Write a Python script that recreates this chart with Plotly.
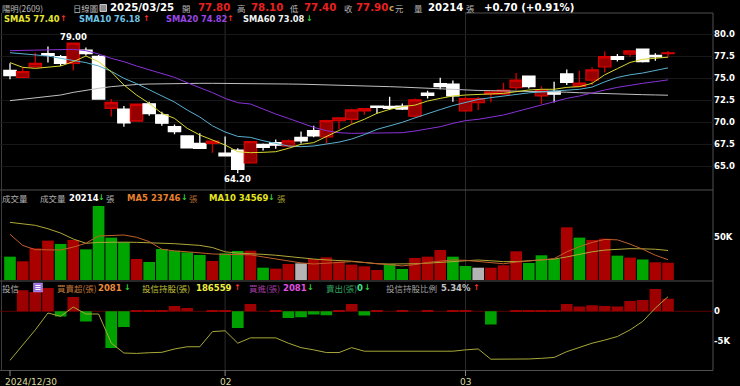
import plotly.graph_objects as go

W, H = 740, 386

dates = ["2024-12-30", "2024-12-31",
         "2025-01-02", "2025-01-03", "2025-01-06", "2025-01-07", "2025-01-08", "2025-01-09", "2025-01-10",
         "2025-01-13", "2025-01-14", "2025-01-15", "2025-01-16", "2025-01-17",
         "2025-01-20", "2025-01-21", "2025-01-22",
         "2025-02-03", "2025-02-04", "2025-02-05", "2025-02-06", "2025-02-07",
         "2025-02-10", "2025-02-11", "2025-02-12", "2025-02-13", "2025-02-14",
         "2025-02-17", "2025-02-18", "2025-02-19", "2025-02-20", "2025-02-21",
         "2025-02-24", "2025-02-25", "2025-02-26", "2025-02-27",
         "2025-03-03", "2025-03-04", "2025-03-05", "2025-03-06", "2025-03-07",
         "2025-03-10", "2025-03-11", "2025-03-12", "2025-03-13", "2025-03-14",
         "2025-03-17", "2025-03-18", "2025-03-19", "2025-03-20", "2025-03-21",
         "2025-03-24", "2025-03-25"]

open_ = [75.9, 75.1, 76.3, 77.8, 77.45, 76.7, 78.2, 77.5, 71.6, 71.5, 70.15, 72.1, 70.85, 69.5, 68.45, 67.6, 67.6,
         66.5, 66.85, 65.4, 67.5, 67.7, 67.3, 68.3, 69.05, 68.35, 70.2, 70.35, 71.3, 71.85, 71.8, 71.85, 70.7, 73.3,
         74.4, 74.35, 71.3, 72.25, 73.2, 73.2, 73.95, 75.25, 73.0, 73.5, 75.5, 74.1, 74.8, 76.3, 77.45, 77.75, 78.3,
         77.6, 77.8]
high = [76.7, 76.25, 77.9, 78.6, 77.65, 79.0, 78.5, 77.65, 72.65, 71.85, 72.1, 72.35, 71.2, 69.75, 68.45, 68.75, 67.9,
        68.4, 67.05, 67.8, 67.6, 68.05, 68.05, 68.95, 69.6, 70.3, 70.55, 71.55, 71.55, 71.9, 72.9, 72.15, 72.7, 73.6,
        75.05, 74.75, 72.9, 72.9, 73.5, 74.5, 75.6, 75.25, 74.1, 74.6, 76.0, 75.85, 76.25, 78.05, 77.75, 78.15, 78.4,
        77.85, 78.1]
low = [74.9, 75.1, 76.3, 76.8, 76.4, 75.9, 77.6, 72.65, 70.65, 69.5, 70.1, 70.75, 69.6, 68.65, 67.05, 67.05, 66.55,
       66.2, 64.2, 65.4, 66.8, 67.0, 67.15, 67.6, 68.3, 67.6, 69.2, 69.8, 70.85, 71.0, 71.4, 71.4, 70.55, 72.7,
       73.75, 72.35, 71.2, 71.4, 72.25, 73.2, 73.65, 73.85, 72.1, 72.25, 74.25, 74.1, 74.25, 75.65, 76.9, 77.45, 76.8,
       77.0, 77.4]
close = [75.3, 75.75, 76.7, 77.6, 76.7, 79.0, 77.8, 72.65, 72.25, 69.95, 72.05, 71.0, 69.9, 68.95, 67.1, 67.05, 67.85,
         66.2, 64.65, 67.8, 67.15, 67.4, 67.9, 67.9, 68.45, 70.2, 70.5, 71.4, 71.55, 71.7, 71.6, 71.5, 72.55, 73.05,
         74.05, 73.0, 72.7, 72.7, 73.45, 73.65, 74.8, 74.05, 73.65, 73.2, 74.55, 74.45, 75.95, 77.45, 77.15, 78.1, 76.9,
         77.45, 77.9]

sma5 = [76.78, 76.25, 76.13, 76.25, 76.4, 76.89, 77.53, 76.89, 75.75, 74.24, 73.1, 72.15, 71.02, 70.45, 69.32, 68.56,
        67.99, 67.42, 66.66, 66.55, 66.59, 66.66, 67.04, 67.5, 67.69, 68.37, 69.13, 69.77, 70.34, 71.02, 71.47, 71.78,
        71.95, 72.42, 72.72, 72.99, 73.1, 73.18, 73.22, 73.29, 73.48, 73.67, 73.75, 73.75, 73.97, 74.05, 74.43, 75.4,
        76.1, 76.8, 77.16, 77.3, 77.4]
sma10 = [77.91, 77.76, 77.65, 77.53, 77.27, 77.0, 76.78, 76.4, 75.8, 75.0, 74.4, 73.7, 73.0, 72.3, 71.4, 70.6, 69.6,
         68.9, 68.4, 68.29, 67.91, 67.61, 67.31, 67.23, 67.31, 67.53, 67.75, 68.1, 68.6, 69.2, 69.6, 70.0, 70.5, 71.0,
         71.45, 71.9, 72.23, 72.6, 72.8, 73.0, 73.2, 73.35, 73.45, 73.55, 73.65, 73.75, 74.0, 74.6, 75.1, 75.4, 75.6,
         75.9, 76.18]
sma20 = [78.14, 78.18, 78.22, 78.29, 78.33, 78.29, 78.14, 77.76, 77.27, 76.89, 76.4, 75.94, 75.57, 75.11, 74.5, 73.97,
         73.37, 72.72, 72.23, 72.08, 71.47, 70.94, 70.45, 69.96, 69.43, 69.05, 68.82, 68.75, 68.75, 68.75, 68.75, 68.82,
         69.01, 69.24, 69.5, 69.88, 70.19, 70.34, 70.57, 70.83, 71.21, 71.59, 71.97, 72.34, 72.72, 72.99, 73.37, 73.67,
         73.97, 74.24, 74.43, 74.62, 74.82]
sma60 = [72.46, 72.6, 72.75, 72.91, 73.1, 73.4, 73.67, 73.86, 74.05, 74.2, 74.3, 74.35, 74.39, 74.41, 74.43, 74.43,
         74.43, 74.43, 74.43, 74.43, 74.41, 74.39, 74.35, 74.33, 74.3, 74.27, 74.24, 74.2, 74.15, 74.1, 74.05, 74.0,
         73.93, 73.86, 73.78, 73.7, 73.65, 73.62, 73.6, 73.58, 73.55, 73.52, 73.5, 73.47, 73.42, 73.36, 73.3, 73.26,
         73.22, 73.18, 73.14, 73.11, 73.08]

volume = [27300, 21900, 37100, 46100, 42200, 46800, 35900, 86700, 49600, 44100, 24600, 21100, 36300, 34300, 32400,
          29300, 22200, 31200, 34000, 34300, 14400, 13300, 18700, 19500, 24600, 26500, 21500, 18000, 16000, 11700,
          18700, 12900, 25800, 27300, 35100, 27300, 16400, 14400, 14400, 17200, 33600, 19900, 28900, 24600, 61700,
          49600, 46800, 48400, 28500, 26200, 24000, 20700, 20214]
vol_dir = ["d", "u", "u", "u", "d", "u", "d", "d", "d", "d", "u", "d", "d", "d", "d", "d", "u", "d", "d", "u", "d",
           "u", "u", "f", "u", "u", "u", "u", "u", "u", "d", "d", "u", "u", "u", "d", "d", "f", "u", "u", "u", "d",
           "d", "d", "u", "d", "u", "u", "d", "u", "d", "u", "u"]
vol_ma5 = [53500, 40500, 35500, 35100, 35100, 38500, 43000, 51500, 52500, 52700, 50000, 45000, 36000, 34000, 33000,
           31500, 30500, 30000, 30000, 29500, 27000, 24500, 22500, 20000, 18700, 19500, 21000, 21500, 20500, 19000,
           18000, 16500, 18000, 20500, 22000, 23500, 23000, 21500, 20000, 19000, 21000, 22000, 23500, 25000, 33000,
           39000, 44000, 47500, 47000, 42000, 36000, 29000, 23746]
vol_ma10 = [67500, 65500, 64000, 60000, 55000, 48000, 43000, 44000, 44500, 44300, 44100, 43800, 43300, 42500, 41500,
            40500, 38000, 33000, 31500, 31000, 30000, 29000, 27500, 25500, 24500, 23500, 23000, 22000, 20500, 19000,
            18700, 18700, 19000, 19700, 20300, 21500, 22500, 23400, 22500, 21500, 21500, 22500, 23500, 24500, 27000,
            30000, 33000, 35000, 36000, 36700, 36500, 36000, 34569]

inv_net = [0, 3500, 3200, 3900, -850, 2400, -1700, 0, -6100, -2600, 100, 100, 100, 900, 550, 0, 100, 150, -2800,
           1200, 0, 50, -1100, -1000, -550, -650, 150, 1200, -700, 50, 0, 50, 0, 100, 0, 50, 150, 0, -2200, 0, 50,
           50, 200, 200, 1200, 800, 1000, 900, 800, 1700, 1900, 3700, 2081]
inv_hold = [172250, 175760, 179100, 182900, 182150, 184240, 182670, 182670, 176140, 173890, 173800, 173960, 174050,
            174800, 175300, 175300, 178700, 178900, 176100, 177300, 177300, 177300, 176100, 175100, 174600, 174000,
            174000, 175100, 174300, 174300, 174300, 174300, 174300, 174300, 174300, 174300, 174600, 174800, 172500,
            172500, 172500, 172550, 172700, 172900, 174200, 175100, 176100, 176800, 177600, 179100, 181000, 184000,
            186559]

price_ticks = [65.0, 67.5, 70.0, 72.5, 75.0, 77.5, 80.0]
date_ticks = {"2024-12-30": "2024/12/30", "2025-02-03": "02", "2025-03-03": "03"}

# ---------------------------------------------------------------- layout helpers
def px_x(p):
    return p / W

def px_y(p):
    return 1 - p / H

NUM = "DejaVu Sans"
CJK = "Noto Sans CJK TC"
PLOT_R = 713
spacing = 12.654
xr = [-10 / spacing, (PLOT_R - 10) / spacing]

fig = go.Figure()

# price panel
fig.add_trace(go.Candlestick(
    x=dates, open=open_, high=high, low=low, close=close,
    increasing=dict(line=dict(color="#d40000", width=1.3), fillcolor="#960000"),
    decreasing=dict(line=dict(color="#ffffff", width=1.3), fillcolor="#ffffff"),
    whiskerwidth=0, xaxis="x", yaxis="y", showlegend=False, hoverinfo="skip"))
for vals, col in [(sma60, "#c0c0c0"), (sma20, "#8a32d8"), (sma10, "#5ab0d0"), (sma5, "#d8d830")]:
    fig.add_trace(go.Scatter(x=dates, y=vals, mode="lines", line=dict(color=col, width=1),
                             xaxis="x", yaxis="y", showlegend=False, hoverinfo="skip"))

# volume panel
vcol = {"u": "#aa0000", "d": "#00a600", "f": "#b4b4b4"}
fig.add_trace(go.Bar(x=dates, y=volume, marker=dict(color=[vcol[d] for d in vol_dir], line=dict(width=0)),
                     width=0.92, xaxis="x", yaxis="y2", showlegend=False, hoverinfo="skip"))
fig.add_trace(go.Scatter(x=dates, y=vol_ma10, mode="lines", line=dict(color="#b0a838", width=1),
                         xaxis="x", yaxis="y2", showlegend=False, hoverinfo="skip"))
fig.add_trace(go.Scatter(x=dates, y=vol_ma5, mode="lines", line=dict(color="#c0602a", width=1),
                         xaxis="x", yaxis="y2", showlegend=False, hoverinfo="skip"))

# institutional panel
fig.add_trace(go.Bar(x=dates, y=inv_net,
                     marker=dict(color=["#9c0000" if v >= 0 else "#00a000" for v in inv_net], line=dict(width=0)),
                     width=0.92, xaxis="x", yaxis="y3", showlegend=False, hoverinfo="skip"))
fig.add_trace(go.Scatter(x=dates, y=inv_hold, mode="lines", line=dict(color="#a8a838", width=1),
                         xaxis="x", yaxis="y4", showlegend=False, hoverinfo="skip"))

tickfont = dict(family=NUM, size=8.5, color="#ffffff", weight="bold")
fig.update_layout(
    width=W, height=H, margin=dict(l=0, r=0, t=0, b=0),
    paper_bgcolor="#000000", plot_bgcolor="#000000",
    boxgap=0.03, boxgroupgap=0.0, barmode="overlay", showlegend=False,
    xaxis=dict(type="category", range=xr, domain=[0, PLOT_R / W], anchor="y3",
               showgrid=False, zeroline=False, showline=False, showticklabels=False, ticks="",
               rangeslider=dict(visible=False), fixedrange=True),
    yaxis=dict(domain=[px_y(190), px_y(13)], range=[62.31, 82.42], side="right", anchor="x",
               tickvals=price_ticks, ticktext=[f"{v:.1f}" for v in price_ticks], tickfont=tickfont,
               showgrid=True, gridcolor="#181818", gridwidth=1, zeroline=False, showline=False, ticks=""),
    yaxis2=dict(domain=[px_y(281), px_y(190)], range=[-1200, 105400], side="right", anchor="x",
                tickvals=[50000], ticktext=["50K"], tickfont=tickfont,
                showgrid=False, zeroline=False, showline=False, ticks=""),
    yaxis3=dict(domain=[px_y(370.5), px_y(281)], range=[-9870, 5050], side="right", anchor="x",
                tickvals=[0, -5000], ticktext=["0", "-5K"], tickfont=tickfont,
                showgrid=False, zeroline=False, showline=False, ticks=""),
    yaxis4=dict(domain=[px_y(370.5), px_y(281)], range=[169960, 190090], overlaying="y3", side="right",
                anchor="x", visible=False),
)

# ---------------------------------------------------------------- frame lines
def hline(y, x0, x1, color, w=1):
    fig.add_shape(type="line", xref="paper", yref="paper", x0=px_x(x0), x1=px_x(x1), y0=px_y(y), y1=px_y(y),
                  line=dict(color=color, width=w), layer="below")

def vline(x, y0, y1, color, w=1, layer="below"):
    fig.add_shape(type="line", xref="paper", yref="paper", x0=px_x(x), x1=px_x(x), y0=px_y(y0), y1=px_y(y1),
                  line=dict(color=color, width=w), layer=layer)

for d in date_ticks:
    i = dates.index(d)
    xp = 10 + i * spacing
    if i > 0:
        vline(xp, 13, 370.5, "#2c2c2c")
    vline(xp, 370.5, 376, "#8c8c8c", layer="above")
hline(13, 465, PLOT_R, "#505050")
hline(190, 0, PLOT_R, "#505050")
hline(281, 0, PLOT_R, "#505050")
hline(370.5, 0, PLOT_R, "#505050")
vline(1.5, 13, 370.5, "#3c3c3c")
vline(PLOT_R, 13, 370.5, "#505050")
hline(311.3, 0, PLOT_R, "#5a0000")

# ---------------------------------------------------------------- texts
def txt(s, x, y, color, size, bold=False, family=NUM, anchor="left"):
    fig.add_annotation(text=s, x=px_x(x), y=px_y(y), xref="paper", yref="paper", xanchor=anchor,
                       yanchor="middle", showarrow=False, borderpad=0,
                       font=dict(family=family, size=size, color=color, weight="bold" if bold else "normal"))

GREY = "#b8b8b8"
RED = "#e82020"
UP = "#ff3030"
DN = "#30d830"
HN = 10.2
HC = 8.4

# row 1
txt("陽明(2609)", 0.5, 7.7, GREY, HC, family=CJK)
txt("日線圖", 72, 7.7, GREY, HC, family=CJK)
fig.add_shape(type="rect", xref="paper", yref="paper", x0=px_x(100), x1=px_x(106.5), y0=px_y(11.5), y1=px_y(4.5),
              fillcolor="#8c8c8c", line=dict(color="#c8c8c8", width=1))
txt("2025/03/25", 109, 7.7, "#ffffff", HN, bold=True)
txt("開", 181, 7.7, GREY, HC, family=CJK)
txt(f"{open_[-1]:.2f}", 196.5, 7.7, RED, HN, bold=True)
txt("高", 236, 7.7, GREY, HC, family=CJK)
txt(f"{high[-1]:.2f}", 250, 7.7, RED, HN, bold=True)
txt("低", 288.5, 7.7, GREY, HC, family=CJK)
txt(f"{low[-1]:.2f}", 302.5, 7.7, RED, HN, bold=True)
txt("收", 342.5, 7.7, GREY, HC, family=CJK)
txt(f"{close[-1]:.2f}", 355, 7.7, RED, HN, bold=True)
txt("c", 387.5, 8.5, "#c8a050", 8.5, bold=True)
txt("元", 394, 7.7, GREY, HC, family=CJK)
txt("量", 413, 7.7, GREY, HC, family=CJK)
txt(f"{volume[-1]}", 426.5, 7.7, "#ffffff", HN, bold=True)
txt("張", 465, 7.7, GREY, HC, family=CJK)
txt("+0.70 (+0.91%)", 482.5, 7.7, "#ffffff", HN, bold=True)

# row 2 : moving averages
MS = 8.3
txt(f"SMA5 {sma5[-1]:.2f}", 2.5, 19, "#e6e632", MS, bold=True)
txt("↑", 59, 19, UP, 8, bold=True)
txt(f"SMA10 {sma10[-1]:.2f}", 78, 19, "#6ec4e6", MS, bold=True)
txt("↑", 141.5, 19, UP, 8, bold=True)
txt(f"SMA20 {sma20[-1]:.2f}", 165, 19, "#9a46e6", MS, bold=True)
txt("↑", 225.5, 19, UP, 8, bold=True)
txt(f"SMA60 {sma60[-1]:.2f}", 241.5, 19, "#f0f0f0", MS, bold=True)
txt("↓", 305, 19, DN, 8, bold=True)

# price labels
txt("79.00", 73.25, 36.7, "#ffffff", 8.5, bold=True, anchor="center")
txt("64.20", 237.7, 178.7, "#ffffff", 8.5, bold=True, anchor="center")

# volume header
txt("成交量", 1, 197.5, "#b0b0b0", 8.5, family=CJK)
txt("成交量", 39, 197.5, "#b0b0b0", 8.5, family=CJK)
txt(f"{volume[-1]}", 67.5, 197.5, "#ffffff", 8.5, bold=True)
txt("↓", 97.5, 197.5, DN, 8, bold=True)
txt("張", 105.5, 197.5, "#b0b0b0", 8.5, family=CJK)
txt(f"MA5 {vol_ma5[-1]}", 126, 197.5, "#e8802c", 8.5, bold=True)
txt("↓", 179.5, 197.5, DN, 8, bold=True)
txt("張", 188, 197.5, "#b06a30", 8.5, family=CJK)
txt(f"MA10 {vol_ma10[-1]}", 208, 197.5, "#e6e620", 8.5, bold=True)
txt("↓", 266.5, 197.5, DN, 8, bold=True)
txt("張", 276, 197.5, "#a8a030", 8.5, family=CJK)

# institutional header
txt("投信", 1, 287.5, "#b0b0b0", 8.5, family=CJK)
fig.add_shape(type="rect", xref="paper", yref="paper", x0=px_x(33.5), x1=px_x(42.5), y0=px_y(292), y1=px_y(283),
              fillcolor="#a070dc", line=dict(color="#c8a0f0", width=0.5), layer="above")
for yy in (285.5, 287.5, 289.5):
    fig.add_shape(type="line", xref="paper", yref="paper", x0=px_x(35.5), x1=px_x(40.5), y0=px_y(yy), y1=px_y(yy),
                  line=dict(color="#ffffff", width=1), layer="above")
txt("買賣超(張)", 56, 287.5, "#c07838", 8.5, family=CJK)
txt(f"{inv_net[-1]}", 97.5, 287.5, "#f08c3c", 8.5, bold=True)
txt("↓", 122.5, 287.5, DN, 8, bold=True)
txt("投信持股(張)", 141, 287.5, "#c0c038", 8.5, family=CJK)
txt(f"{inv_hold[-1]}", 195, 287.5, "#f0f040", 8.5, bold=True)
txt("↑", 232.5, 287.5, UP, 8, bold=True)
txt("買進(張)", 248, 287.5, "#a03ca0", 8.5, family=CJK)
txt(f"{inv_net[-1]}", 282, 287.5, "#e050e0", 8.5, bold=True)
txt("↓", 306, 287.5, DN, 8, bold=True)
txt("賣出(張)", 325, 287.5, "#30a060", 8.5, family=CJK)
txt("0", 356, 287.5, "#40e090", 8.5, bold=True)
txt("↓", 362.5, 287.5, DN, 8, bold=True)
txt("投信持股比例", 385.5, 287.5, "#a0a0a0", 8.5, family=CJK)
txt("5.34%", 440, 287.5, "#c0c0c0", 8.5, bold=True)
txt("↑", 472, 287.5, UP, 8, bold=True)

# date labels
for d, lab in date_ticks.items():
    i = dates.index(d)
    xp = 10 + i * spacing
    if i == 0:
        txt(lab, 4, 381.5, "#dcdc9c", 9)
    else:
        txt(lab, xp, 381.5, "#dcdc9c", 9, anchor="center")

fig.write_html("out.html")
